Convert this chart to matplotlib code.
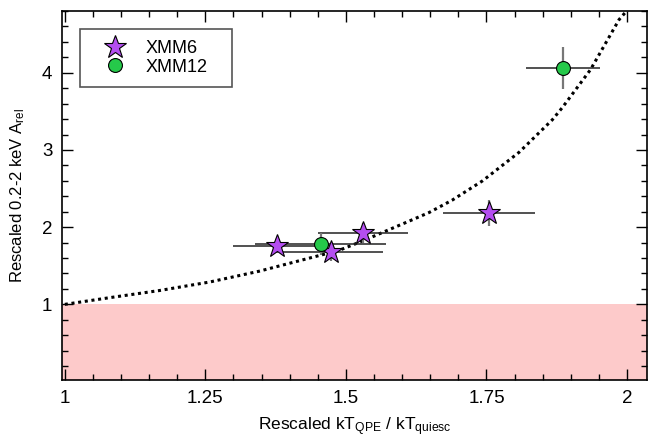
import numpy as np
import matplotlib
matplotlib.use('Agg')
import matplotlib.pyplot as plt
from matplotlib.ticker import MultipleLocator, FixedLocator

plt.rcParams['font.family'] = ['Liberation Sans', 'DejaVu Sans']
plt.rcParams['mathtext.fontset'] = 'custom'
plt.rcParams['mathtext.rm'] = 'Liberation Sans'
plt.rcParams['mathtext.it'] = 'Liberation Sans'

# XMM6 (stars)
x6 = [1.378, 1.474, 1.530, 1.755]
y6 = [1.76, 1.68, 1.93, 2.18]
x6_err = [0.078, 0.092, 0.080, 0.082]
y6_err = [0.10, 0.12, 0.13, 0.17]

# XMM12 (circles)
x12 = [1.455, 1.886]
y12 = [1.78, 4.06]
x12_err = [0.117, 0.066]
y12_err = [0.14, 0.27]

# model curve
curve_x = [1.0, 1.08, 1.169, 1.258, 1.346, 1.488, 1.536, 1.571, 1.613, 1.648,
           1.689, 1.743, 1.808, 1.867, 1.885, 1.935, 1.986, 1.998]
curve_y = [1.0, 1.087, 1.18, 1.29, 1.43, 1.70, 1.84, 1.95, 2.08, 2.19,
           2.35, 2.60, 2.97, 3.39, 3.55, 4.04, 4.69, 4.79]

xticks = [1, 1.25, 1.5, 1.75, 2]
xticklabels = ['1', '1.25', '1.5', '1.75', '2']
yticks = [1, 2, 3, 4]

purple = '#b44ef0'
green = '#25c94a'
fs = 13.5

fig = plt.figure(figsize=(6.48, 4.37), dpi=100)
ax = fig.add_axes([0.0957, 0.1304, 0.9023, 0.8444])

ax.axhspan(-1, 1, color='#fdcaca', lw=0, zorder=0)
ax.plot(curve_x, curve_y, color='black', ls=(0, (1, 1.2)), lw=2.2, zorder=1)

# x errors black, y errors grey
ax.errorbar(x6, y6, xerr=x6_err, fmt='none', ecolor='#222222', elinewidth=1.1, capsize=0, zorder=2)
ax.errorbar(x12, y12, xerr=x12_err, fmt='none', ecolor='#222222', elinewidth=1.1, capsize=0, zorder=2)
ax.errorbar(x6, y6, yerr=y6_err, fmt='none', ecolor='#777777', elinewidth=1.6, capsize=0, zorder=2)
ax.errorbar(x12, y12, yerr=y12_err, fmt='none', ecolor='#777777', elinewidth=1.6, capsize=0, zorder=2)

ax.plot(x6, y6, ls='none', marker='*', ms=17, mfc=purple, mec='black', mew=0.8, zorder=3, label='XMM6')
ax.plot(x12, y12, ls='none', marker='o', ms=10, mfc=green, mec='black', mew=0.8, zorder=3, label='XMM12')

ax.set_xlim(0.995, 2.035)
ax.set_ylim(0.02, 4.8)
ax.xaxis.set_major_locator(FixedLocator(xticks))
ax.set_xticklabels(xticklabels)
ax.xaxis.set_minor_locator(MultipleLocator(0.05))
ax.yaxis.set_major_locator(FixedLocator(yticks))
ax.yaxis.set_minor_locator(MultipleLocator(0.2))
ax.tick_params(which='both', direction='in', top=True, right=True, labelsize=fs, width=1)
ax.tick_params(which='major', length=8, pad=7)
ax.tick_params(which='minor', length=4)
for s in ax.spines.values():
    s.set_linewidth(1.2)

ax.set_xlabel(r'Rescaled kT$_{\rm QPE}$ / kT$_{\rm quiesc}$', fontsize=12.5, labelpad=6)
ax.set_ylabel(r'Rescaled 0.2-2 keV A$_{\rm rel}$', fontsize=12, labelpad=11)

leg = ax.legend(loc='upper left', bbox_to_anchor=(0.031, 0.5, 0.26, 0.451), mode='expand',
                fontsize=13, handlelength=2.7, handletextpad=0.3, labelspacing=0.1,
                borderpad=0.6, fancybox=False, framealpha=1, borderaxespad=0)
leg.get_frame().set_edgecolor('#555555')
leg.get_frame().set_linewidth(1.2)

fig.savefig('out.png', dpi=100)
